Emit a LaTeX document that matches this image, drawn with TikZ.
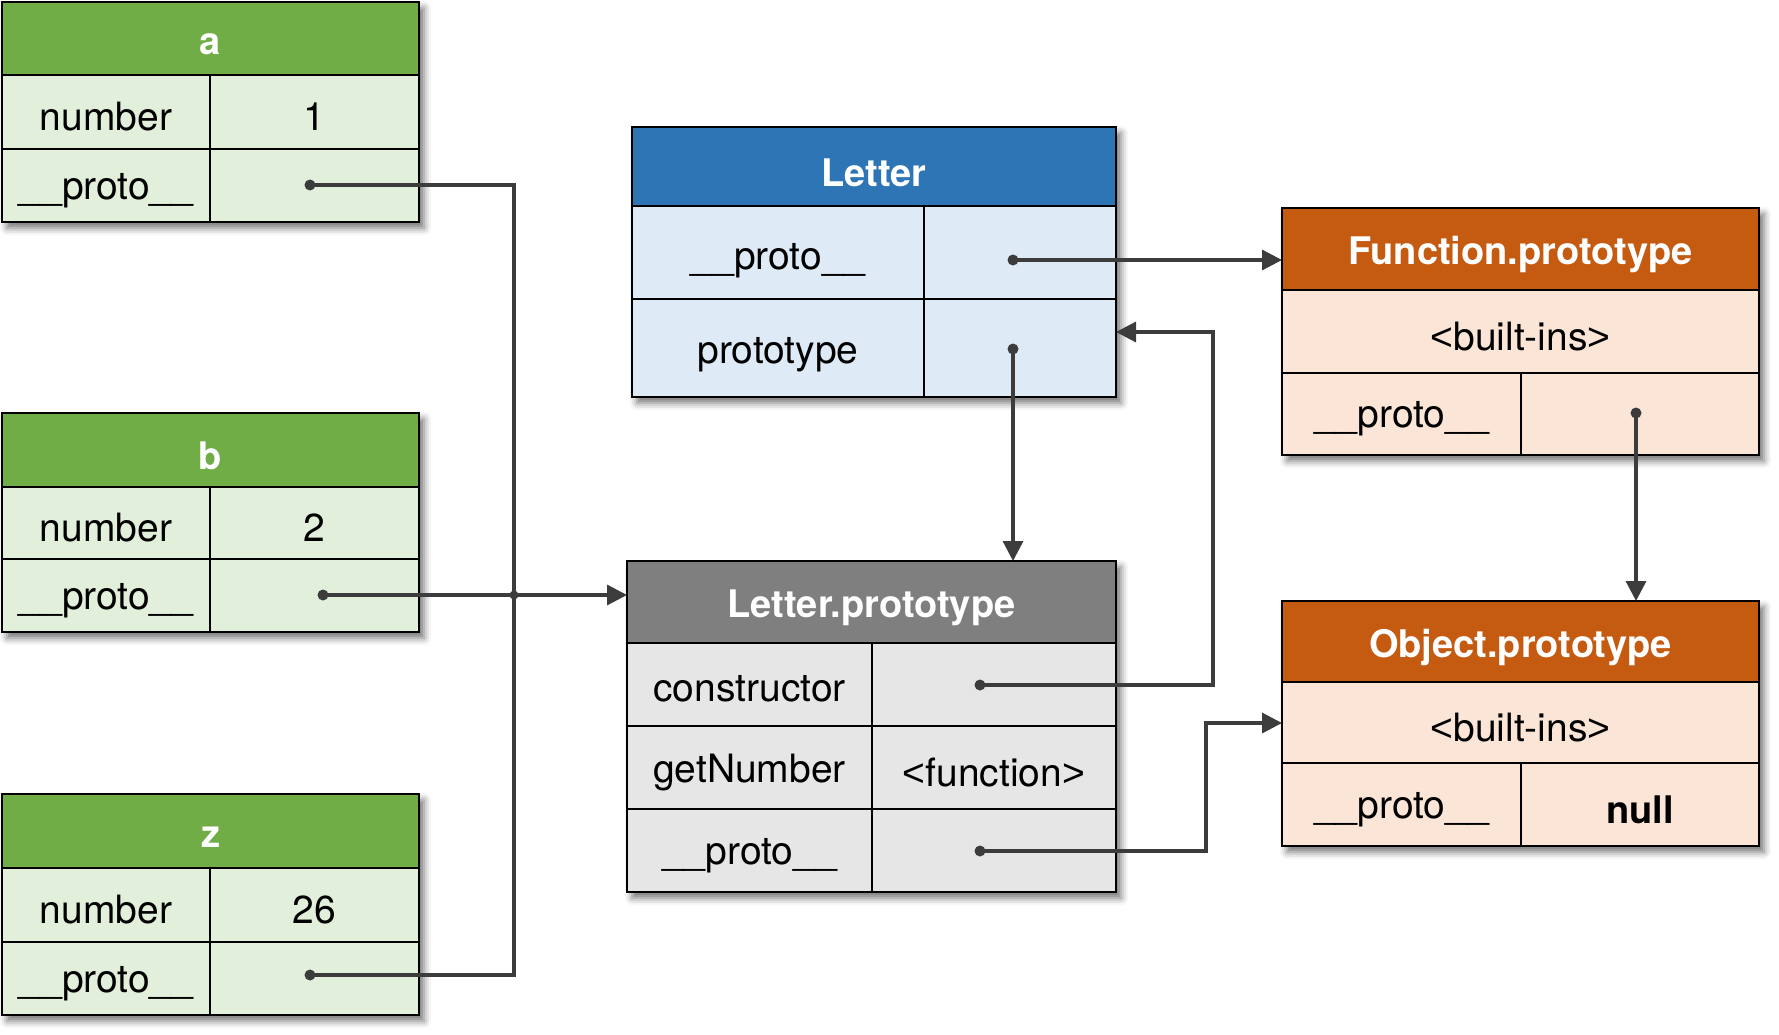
\documentclass[tikz,border=0pt]{standalone}
\usepackage{fontspec}
\setmainfont{TeX Gyre Heros}
\newfontfamily\libsans{Liberation Sans}
\usetikzlibrary{arrows.meta,shadows.blur}
\definecolor{ghead}{HTML}{70AD47}
\definecolor{gbody}{HTML}{E2EFDA}
\definecolor{bhead}{HTML}{2E75B6}
\definecolor{bbody}{HTML}{DEEAF6}
\definecolor{khead}{HTML}{7F7F7F}
\definecolor{kbody}{HTML}{E6E6E6}
\definecolor{ohead}{HTML}{C55A11}
\definecolor{obody}{HTML}{FBE5D6}
\definecolor{wire}{HTML}{3C3C3C}
\newcommand\lt{{\libsans <}}
\newcommand\gt{{\libsans >}}
\newcommand\tablebox[7]{%
  \path[fill=#7, blur shadow={shadow xshift=5pt, shadow yshift=-6pt, shadow blur radius=7pt, shadow opacity=55}] (#1,#2) rectangle (#3,#4);
  \fill[#6] (#1,#2) rectangle (#3,#5);
  \draw[inner line] (#1,#5) -- (#3,#5);
}
\begin{document}
\begin{tikzpicture}[x=1pt,y=-1pt,
  inner line/.style={line width=1.6pt, black},
  outer line/.style={line width=2.4pt, black},
  cell/.style={inner sep=0pt, anchor=center, yshift=-5pt, font=\fontsize{39}{46}\selectfont},
  headtxt/.style={cell, text=white, yshift=-1pt, font=\fontsize{38}{45}\selectfont\bfseries},
  dot/.style={circle, fill=wire, inner sep=0pt, minimum size=11pt},
  jdot/.style={circle, fill=wire, inner sep=0pt, minimum size=9pt},
  wireline/.style={draw=wire, line width=3.3pt},
  arrowline/.style={wireline, -{Triangle[length=20pt,width=20pt]}}]
\useasboundingbox (0,0) rectangle (1779,1035);

% ---- a ----
\tablebox{2}{2}{419}{222}{75}{ghead}{gbody}
\draw[inner line] (2,149) -- (419,149) (210,75) -- (210,222);
\draw[outer line] (2,2) rectangle (419,222);
\node[headtxt] (ah) at (210.5,38.5) {a};
\node[cell] (an) at (106,112) {number};
\node[cell] (av) at (314.5,112) {1};
\node[cell] (ap) at (106,186) {\_\_proto\_\_};

% ---- b ----
\tablebox{2}{413}{419}{632}{487}{ghead}{gbody}
\draw[inner line] (2,559) -- (419,559) (210,487) -- (210,632);
\draw[outer line] (2,413) rectangle (419,632);
\node[headtxt] (bh) at (210.5,450) {b};
\node[cell] (bn) at (106,523) {number};
\node[cell] (bv) at (314.5,523) {2};
\node[cell] (bp) at (106,596) {\_\_proto\_\_};

% ---- z ----
\tablebox{2}{794}{419}{1015}{868}{ghead}{gbody}
\draw[inner line] (2,942) -- (419,942) (210,868) -- (210,1015);
\draw[outer line] (2,794) rectangle (419,1015);
\node[headtxt] (zh) at (210.5,831) {z};
\node[cell] (zn) at (106,905) {number};
\node[cell] (zv) at (314.5,905) {26};
\node[cell] (zp) at (106,979) {\_\_proto\_\_};

% ---- Letter ----
\tablebox{632}{127}{1116}{397}{206}{bhead}{bbody}
\draw[inner line] (632,299) -- (1116,299) (924,206) -- (924,397);
\draw[outer line] (632,127) rectangle (1116,397);
\node[headtxt] (lh) at (874,166.5) {Letter};
\node[cell] (lp) at (778,256) {\_\_proto\_\_};
\node[cell] (lt) at (778,350) {prototype};

% ---- Letter.prototype ----
\tablebox{627}{561}{1116}{892}{643}{khead}{kbody}
\draw[inner line] (627,726) -- (1116,726) (627,809) -- (1116,809) (872,643) -- (872,892);
\draw[outer line] (627,561) rectangle (1116,892);
\node[headtxt] (ph) at (871.5,602) {Letter.prototype};
\node[cell] (pc) at (749.5,684) {constructor};
\node[cell] (pg) at (749.5,768) {getNumber};
\node[cell] (pf) at (994,768) {\lt function\gt};
\node[cell] (pp) at (749.5,851) {\_\_proto\_\_};

% ---- Function.prototype ----
\tablebox{1282}{208}{1759}{455}{290}{ohead}{obody}
\draw[inner line] (1282,373) -- (1759,373) (1521,373) -- (1521,455);
\draw[outer line] (1282,208) rectangle (1759,455);
\node[headtxt] (fh) at (1520.5,249) {Function.prototype};
\node[cell] (fb) at (1520.5,331.5) {\lt built-ins\gt};
\node[cell] (fp) at (1401.5,414) {\_\_proto\_\_};

% ---- Object.prototype ----
\tablebox{1282}{601}{1759}{846}{682}{ohead}{obody}
\draw[inner line] (1282,763) -- (1759,763) (1521,763) -- (1521,846);
\draw[outer line] (1282,601) rectangle (1759,846);
\node[headtxt] (oh) at (1520.5,641.5) {Object.prototype};
\node[cell] (ob) at (1520.5,722.5) {\lt built-ins\gt};
\node[cell] (op) at (1401.5,805) {\_\_proto\_\_};
\node[cell, font=\fontsize{38}{45}\selectfont\bfseries] (on) at (1640,805) {null};

% ---- dots and coordinates ----
\node[dot] (adot) at (310,185) {};
\node[dot] (bdot) at (323,595) {};
\node[dot] (zdot) at (310,975) {};
\node[jdot] (jx) at (514,595) {};
\node[dot] (lpdot) at (1013,260) {};
\node[dot] (ltdot) at (1013,349) {};
\node[dot] (pcdot) at (980,685) {};
\node[dot] (ppdot) at (980,851) {};
\node[dot] (fpdot) at (1636,413) {};
\coordinate (lpin) at (627,595);
\coordinate (lptop) at (1013,561);
\coordinate (fin) at (1282,260);
\coordinate (oin) at (1282,723);
\coordinate (otop) at (1636,601);
\coordinate (lin) at (1116,332);
\coordinate (c1) at (1213,685);
\coordinate (c2) at (1206,851);

% ---- connectors ----
\draw[wireline] (adot.center) -| (jx.center) |- (zdot.center);
\draw[arrowline] (bdot.center) -- (lpin);
\draw[arrowline] (lpdot.center) -- (fin);
\draw[arrowline] (ltdot.center) -- (lptop);
\draw[arrowline] (pcdot.center) -- (c1) |- (lin);
\draw[arrowline] (ppdot.center) -- (c2) |- (oin);
\draw[arrowline] (fpdot.center) -- (otop);
\end{tikzpicture}
\end{document}
